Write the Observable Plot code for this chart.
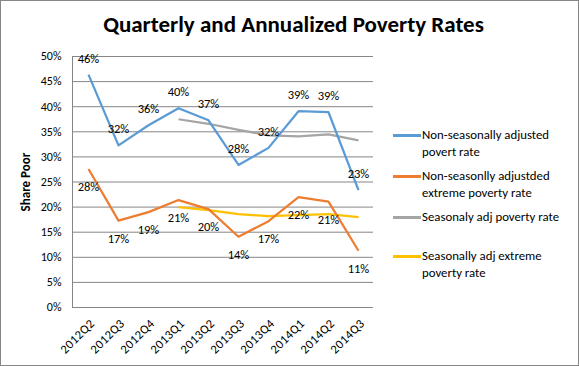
<!DOCTYPE html>
<html><head><meta charset="utf-8">
<script src="https://cdn.jsdelivr.net/npm/d3@7"></script>
<script src="https://cdn.jsdelivr.net/npm/@observablehq/plot@0.6"></script>
<style>
html,body{margin:0;padding:0;background:#fff;}
#chart{position:relative;width:579px;height:366px;box-sizing:border-box;border:1px solid #868686;background:#fff;font-family:Carlito,Lato,sans-serif;overflow:hidden;}
#title{height:47px;line-height:47px;text-align:center;padding-left:8px;font-size:23px;font-weight:bold;color:#000;white-space:nowrap;}
#plot svg{display:block;}
#plot g[aria-label="y-axis label"] text{font-weight:bold;font-size:13px;}
#plot g[aria-label="x-axis tick label"] text{letter-spacing:0.4px;}
.legend{position:absolute;left:392px;top:0;font-size:12.8px;line-height:16.5px;color:#000;}
.legend .item{position:absolute;left:0;width:185px;}
.legend .sw{position:absolute;left:0;top:7px;width:28px;height:2.5px;}
.legend .tx{position:absolute;left:29px;top:0;white-space:nowrap;}
</style></head>
<body>
<div id="chart">
  <div id="title">Quarterly and Annualized Poverty Rates</div>
  <div id="plot"></div>
  <div class="legend" id="legend"></div>
</div>
<script>
const quarters = ["2012Q2","2012Q3","2012Q4","2013Q1","2013Q2","2013Q3","2013Q4","2014Q1","2014Q2","2014Q3"];
const nsaPoverty = [46.4, 32.3, 36.3, 39.7, 37.3, 28.4, 31.8, 39.1, 38.9, 23.4];
const nsaExtreme = [27.6, 17.3, 19.0, 21.4, 19.6, 14.1, 17.2, 22.0, 21.1, 11.3];
const saPoverty = [null, null, null, 37.5, 36.6, 35.4, 34.3, 34.1, 34.5, 33.3];
const saExtreme = [null, null, null, 20.0, 19.4, 18.6, 18.2, 18.4, 18.6, 18.0];
const yTicks = [0, 5, 10, 15, 20, 25, 30, 35, 40, 45, 50];
const seriesNames = ["Non-seasonally adjusted povert rate", "Non-seasonlly adjustded extreme poverty rate", "Seasonaly adj poverty rate", "Seasonally adj extreme poverty rate"];
const legendLines = [["Non-seasonally adjusted", "povert rate"], ["Non-seasonlly adjustded", "extreme poverty rate"], ["Seasonaly adj poverty rate"], ["Seasonally adj extreme", "poverty rate"]];
const colors = ["#5B9BD5", "#ED7D31", "#A5A5A5", "#FFC000"];

const font = "Carlito, Lato, sans-serif";
const lineMark = (vals, color) => Plot.line(quarters, {
  x: d => d, y: (d, i) => vals[i] == null ? NaN : vals[i],
  stroke: color, strokeWidth: 2.25, strokeLinejoin: "round", strokeLinecap: "butt"
});

const chart = Plot.plot({
  width: 577, height: 317,
  marginTop: 8, marginLeft: 71, marginRight: 205, marginBottom: 58,
  style: {fontFamily: font, fontSize: "12px", color: "#000", background: "#fff", overflow: "visible"},
  x: {type: "point", domain: quarters, padding: 0.5},
  y: {domain: [0, 50]},
  marks: [
    Plot.gridY(yTicks, {stroke: "#868686", strokeOpacity: 1, strokeWidth: 1}),
    Plot.frame({anchor: "left", stroke: "#868686", strokeOpacity: 1}),
    Plot.axisY({ticks: yTicks, tickFormat: d => d + "%", tickSize: 0, tickPadding: 11, label: "Share Poor", labelAnchor: "center", labelArrow: "none", labelOffset: 52, fill: "#000", fontSize: 12}),
    Plot.axisX({tickRotate: -45, tickSize: 0, tickPadding: 14, dx: 4, label: null, fill: "#000", fontSize: 12.5}),
    lineMark(saPoverty, colors[2]),
    lineMark(saExtreme, colors[3]),
    lineMark(nsaPoverty, colors[0]),
    lineMark(nsaExtreme, colors[1]),
    Plot.text(quarters, {x: d => d, y: (d, i) => nsaPoverty[i], text: (d, i) => Math.round(nsaPoverty[i]) + "%", dy: -16, fill: "#000", fontSize: 12.5}),
    Plot.text(quarters, {x: d => d, y: (d, i) => nsaExtreme[i], text: (d, i) => Math.round(nsaExtreme[i]) + "%", dy: 18, fill: "#000", fontSize: 12.5})
  ]
});
document.getElementById("plot").appendChild(chart);

const legendTops = [126, 167, 208, 247];
const leg = document.getElementById("legend");
legendLines.forEach((lines, k) => {
  const item = document.createElement("div");
  item.className = "item";
  item.style.top = legendTops[k] + "px";
  item.title = seriesNames[k];
  const sw = document.createElement("div");
  sw.className = "sw";
  sw.style.background = colors[k];
  const tx = document.createElement("div");
  tx.className = "tx";
  tx.innerHTML = lines.join("<br>");
  item.appendChild(sw); item.appendChild(tx);
  leg.appendChild(item);
});
</script>
</body></html>
